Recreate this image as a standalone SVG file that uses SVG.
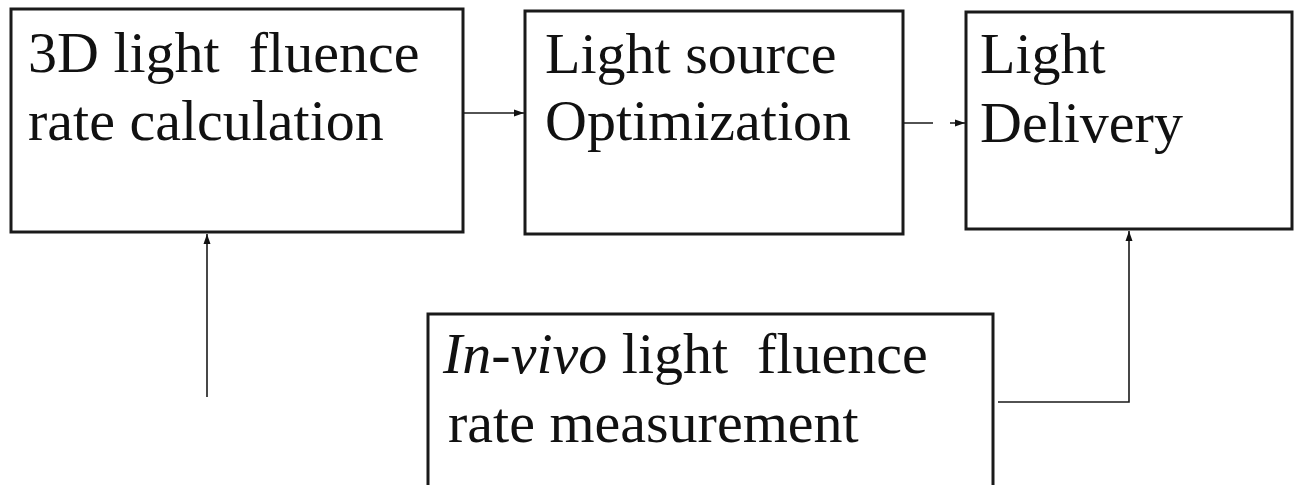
<svg xmlns="http://www.w3.org/2000/svg" width="1298" height="485" viewBox="0 0 1298 485">
<style>
.box{fill:#fff;stroke:#1a1a1a;stroke-width:3}
.lbl{font-family:"Liberation Serif","Times New Roman",serif;font-size:58px;fill:#111}
.conn{fill:none;stroke:#1a1a1a;stroke-width:1.6}
</style>
<defs>
<marker id="arr" viewBox="0 0 10 10" refX="10" refY="5" markerWidth="10" markerHeight="10" markerUnits="userSpaceOnUse" orient="auto">
<path d="M0,1.5 L10,5 L0,8.5 z" fill="#111"/>
</marker>
</defs>
<rect width="1298" height="485" fill="#fff"/>
<g id="n1">
<rect class="box" x="11" y="9" width="452" height="223"/>
<text class="lbl" x="28" y="72" xml:space="preserve">3D light  fluence</text>
<text class="lbl" x="28" y="140">rate calculation</text>
</g>
<g id="n2">
<rect class="box" x="525" y="11" width="378" height="223"/>
<text class="lbl" x="545" y="73">Light source</text>
<text class="lbl" x="545" y="140">Optimization</text>
</g>
<g id="n3">
<rect class="box" x="966" y="12" width="326" height="217"/>
<text class="lbl" x="980" y="73">Light</text>
<text class="lbl" x="980" y="142">Delivery</text>
</g>
<g id="n4">
<rect class="box" x="428" y="314" width="565" height="180"/>
<text class="lbl" x="443" y="373" xml:space="preserve"><tspan font-style="italic">In</tspan>-<tspan font-style="italic">vivo</tspan> light  fluence</text>
<text class="lbl" x="448" y="442">rate measurement</text>
</g>
<g id="connectors">
<path class="conn" d="M463,113 H524" marker-end="url(#arr)"/>
<path class="conn" d="M903,123 H933 M950,123 H965" marker-end="url(#arr)"/>
<path class="conn" d="M207,397 V234" marker-end="url(#arr)"/>
<path class="conn" d="M998,402 H1129 V231" marker-end="url(#arr)"/>
</g>
</svg>
